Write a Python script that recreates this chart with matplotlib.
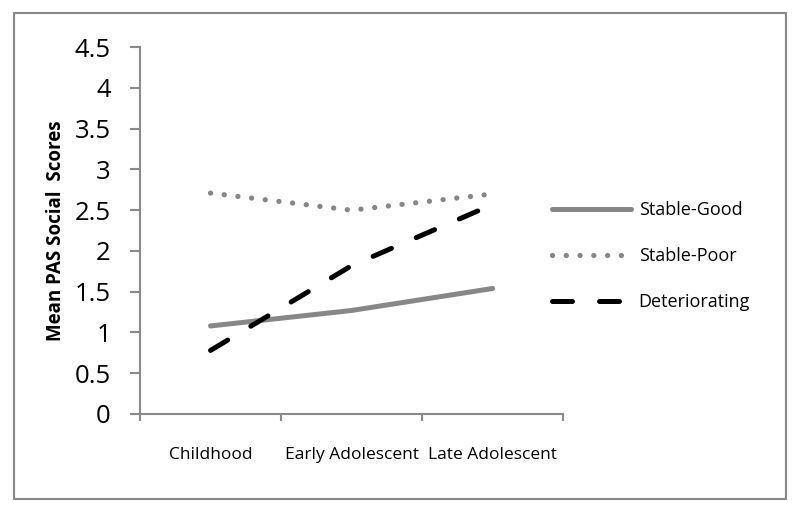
import matplotlib.pyplot as plt
from matplotlib.patches import Rectangle

# data
stages = ['Childhood', 'Early Adolescent', 'Late Adolescent']
stable_good = [1.08, 1.27, 1.54]
stable_poor = [2.71, 2.50, 2.70]
deteriorating = [0.78, 1.82, 2.57]
y_ticks = [0, 0.5, 1, 1.5, 2, 2.5, 3, 3.5, 4, 4.5]

GRAY = '#878787'
AXIS_GRAY = '#8a8a8a'
FONT = ['Open Sans', 'DejaVu Sans']

plt.rcParams['font.family'] = FONT

fig = plt.figure(figsize=(8, 5.13), dpi=100)
ax = fig.add_axes([0.175, 0.193, 0.529, 0.715])

x = list(range(len(stages)))
ax.plot(x, stable_good, color=GRAY, lw=3.6, solid_capstyle='round', label='Stable-Good')
ax.plot(x, stable_poor, color=GRAY, lw=3.8, linestyle=(0, (0.01, 2.6)),
        dash_capstyle='round', label='Stable-Poor')
ax.plot(x, deteriorating, color='black', lw=3.6, linestyle=(0, (4, 5.4)),
        dash_capstyle='round', label='Deteriorating')

ax.set_xlim(-0.5, 2.5)
ax.set_ylim(0, 4.5)
ax.set_yticks(y_ticks)
ax.set_yticklabels([f'{t:g}' for t in y_ticks], fontsize=18.5)
ax.set_xticks(x)
ax.set_xticklabels(stages, fontsize=12.5)
ax.set_xticks([-0.5, 0.5, 1.5, 2.5], minor=True)
ax.tick_params(axis='x', which='major', length=0, pad=24)
ax.tick_params(axis='x', which='minor', length=5, width=1.5, color=AXIS_GRAY, direction='out')
ax.tick_params(axis='y', length=7, width=1.5, color=AXIS_GRAY, direction='out', pad=14)

ax.set_ylabel('Mean PAS Social  Scores', fontsize=13.5, fontweight='bold', labelpad=6)

for side in ['top', 'right']:
    ax.spines[side].set_visible(False)
for side in ['left', 'bottom']:
    ax.spines[side].set_color(AXIS_GRAY)
    ax.spines[side].set_linewidth(1.5)

fig.legend(loc='center left', bbox_to_anchor=(0.69, 0.501), frameon=False,
           fontsize=13, handlelength=4.4, handletextpad=0.4, labelspacing=1.55,
           borderpad=0, borderaxespad=0)

fig.patches.append(Rectangle((14 / 800, 14 / 513), 772 / 800, 486 / 513,
                             transform=fig.transFigure, fill=False,
                             edgecolor=AXIS_GRAY, lw=1.5))

fig.savefig('out.png', dpi=100)
